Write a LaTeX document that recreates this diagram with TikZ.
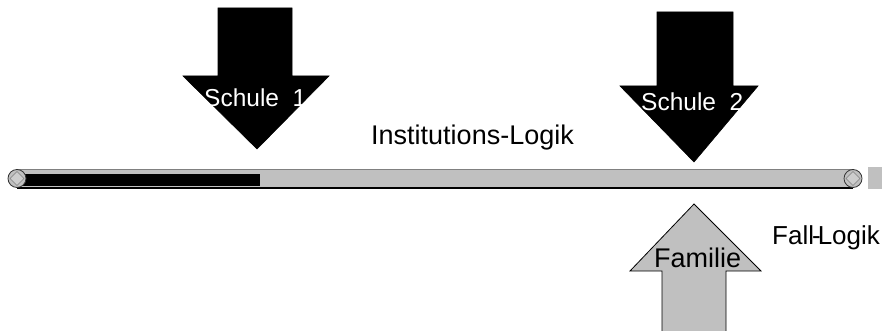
\documentclass[tikz,border=0pt]{standalone}
\usepackage{fontspec}
\setmainfont{Liberation Sans}
\definecolor{lgray}{HTML}{C0C0C0}
\definecolor{dgray}{HTML}{808080}
\begin{document}
\begin{tikzpicture}[x=1pt,y=-1pt,
  lbl/.style={inner sep=0pt,anchor=base west},
  bigarrow/.style={fill=black,draw=black,line width=0.6pt},
  famarrow/.style={fill=lgray,draw=black,line width=0.8pt},
  endcap/.style={circle,minimum size=18pt,inner sep=0pt,fill=lgray,draw=black!80,line width=0.8pt}]
\useasboundingbox (0,0) rectangle (882,331);
% bar
\fill[lgray] (17,169) rectangle (853,188);
\fill[black] (17,174) rectangle (260,186);
\draw[dgray,line width=1.6pt] (17,169.5) -- (853,169.5);
\draw[black,line width=1.2pt] (17,188) -- (853,188);
\node[endcap] (capL) at (17,178.5) {};
\node[endcap] (capR) at (853,178.5) {};
\foreach \c in {capL,capR}{
  \draw[dgray,fill=lgray!80,line width=0.6pt] ([xshift=-7pt]\c.center) -- ([yshift=-7pt]\c.center) -- ([xshift=7pt]\c.center) -- ([yshift=7pt]\c.center) -- cycle;
}
\fill[lgray] (868,167) rectangle (882,189);
% Schule 1 arrow
\draw[bigarrow] (218,8) -- (292,8) -- (292,76) -- (329,76) -- (257,149) -- (183,76) -- (218,76) -- cycle;
% Schule 2 arrow
\draw[bigarrow] (657,12) -- (733,12) -- (733,86) -- (758,86) -- (694,162) -- (620,86) -- (657,86) -- cycle;
% Familie arrow
\draw[famarrow] (662,335) -- (662,271) -- (630,271) -- (694,204) -- (761,271) -- (726,271) -- (726,335);
% texts
\node[lbl,text=white,font=\fontsize{24.5}{28}\selectfont] (s1) at (204,107) {Schule\ \ 1};
\node[lbl,text=white,font=\fontsize{24.5}{28}\selectfont] (s2) at (641,111) {Schule\ \ 2};
\node[lbl,font=\fontsize{27}{30}\selectfont] (inst) at (371,145) {Institutions-Logik};
\node[lbl,font=\fontsize{27}{30}\selectfont] (fam) at (654,267) {Familie};
\node[lbl,font=\fontsize{26}{30}\selectfont] (fall) at (772,244) {Fall\kern-2pt-\kern-3pt Logik};
\end{tikzpicture}
\end{document}
